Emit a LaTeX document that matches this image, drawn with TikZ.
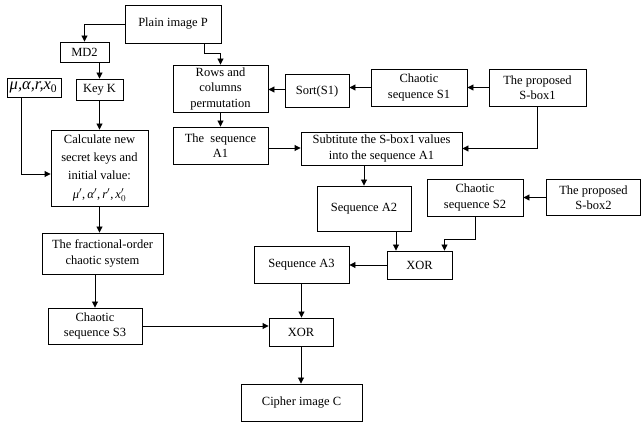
\documentclass[tikz,border=0pt]{standalone}
\usepackage{fontspec}
\setmainfont{Liberation Serif}
\usetikzlibrary{arrows.meta}

\begin{document}
\begin{tikzpicture}[x=1pt, y=-1pt,
  box/.style={draw, line width=0.9pt, align=center, inner sep=0pt,
    font=\fontsize{12.5}{15.5}\selectfont},
  arr/.style={line width=0.9pt, -{Triangle[length=6pt,width=6pt]}}]
\useasboundingbox (0,0) rectangle (641,422);

% left column
\node[box, minimum width=96, minimum height=38] (plain) at (173,24) {Plain image P};
\node[box, minimum width=49, minimum height=20] (md2) at (84.5,52) {MD2};
\node[box, minimum width=47, minimum height=21] (keyk) at (99.5,89.5) {Key K};
\node[box, minimum width=54, minimum height=19, font=\fontsize{16.5}{16.5}\selectfont] (param) at (34,87.5) {\kern-1pt\textit{μ,α,r,x}\textsubscript{0}};
\node[box, minimum width=97, minimum height=76, font=\fontsize{12.5}{18.3}\selectfont] (calc) at (99.5,168) {Calculate new\\secret keys and\\initial value:\\\textit{μ}$'$,\,\textit{α}$'$,\,\textit{r}$'$,\,\textit{x}$_0'$};
\node[box, minimum width=121, minimum height=41] (frac) at (102.5,253.5) {The fractional-order\\chaotic system};
\node[box, minimum width=94, minimum height=36] (s3) at (95,326) {Chaotic\\sequence S3};

% permutation and substitution
\node[box, minimum width=95, minimum height=47] (rows) at (220.5,88.5) {Rows and\\columns\\permutation};
\node[box, minimum width=95, minimum height=37] (a1) at (220.5,145.5) {The\ \ sequence\\A1};
\node[box, minimum width=64, minimum height=33] (sort) at (317,91) {Sort(S1)};
\node[box, minimum width=96, minimum height=37] (s1) at (419,87.5) {Chaotic\\sequence S1};
\node[box, minimum width=97, minimum height=37] (sbox1) at (537.5,87.5) {The proposed\\S-box1};
\node[box, minimum width=161, minimum height=33] (subst) at (381.5,148.5) {Subtitute the S-box1 values\\into the sequence A1};

% diffusion
\node[box, minimum width=94, minimum height=45] (a2) at (364,208.5) {Sequence A2};
\node[box, minimum width=96, minimum height=37] (s2) at (475,197.5) {Chaotic\\sequence S2};
\node[box, minimum width=94, minimum height=36] (sbox2) at (593.5,197.5) {The proposed\\S-box2};
\node[box, minimum width=65, minimum height=28] (xor1) at (419.5,265) {XOR};
\node[box, minimum width=95, minimum height=37] (a3) at (301.5,264.5) {Sequence A3};
\node[box, minimum width=64, minimum height=28] (xor2) at (301,332) {XOR};
\node[box, minimum width=121, minimum height=37] (cipher) at (301.5,402.5) {Cipher image C};

% connectors
\draw[arr] (plain.west) -| (md2.north);
\draw[arr] (md2.south -| keyk.north) -- (keyk.north);
\draw[arr] (keyk.south) -- (keyk.south |- calc.north);
\draw[arr] ([xshift=-13pt]param.south) |- ([yshift=-6pt]calc.west);
\draw[arr] (calc.south) -- (calc.south |- frac.north);
\draw[arr] (frac.south -| s3.north) -- (s3.north);
\draw[arr] (s3.east) -- (s3.east -| xor2.west);
\draw[arr] ([xshift=31pt]plain.south) -- ++(0,10) -| (rows.north);
\draw[arr] (rows.south) -- (a1.north);
\draw[arr] (sbox1.west) -- (s1.east);
\draw[arr] (s1.west) -- (s1.west -| sort.east);
\draw[arr] ([yshift=1.5pt]sort.west) -- ([yshift=1.5pt]sort.west -| rows.east);
\draw[arr] ([yshift=-2.5pt]a1.east) -- ([yshift=-2.5pt]a1.east -| subst.west);
\draw[arr] (sbox1.south) |- (subst.east);
\draw[arr] (subst.south -| a2.north) -- (a2.north);
\draw[arr] (sbox2.west) -- (s2.east);
\draw[arr] ([xshift=32pt]a2.south) -- ([xshift=32pt]a2.south |- xor1.north);
\draw[arr] (s2.south) -- ++(0,23) -| ([xshift=25pt]xor1.north);
\draw[arr] (xor1.west) -- (xor1.west -| a3.east);
\draw[arr] (a3.south) -- (a3.south |- xor2.north);
\draw[arr] (xor2.south) -- (xor2.south |- cipher.north);

\end{tikzpicture}
\end{document}
